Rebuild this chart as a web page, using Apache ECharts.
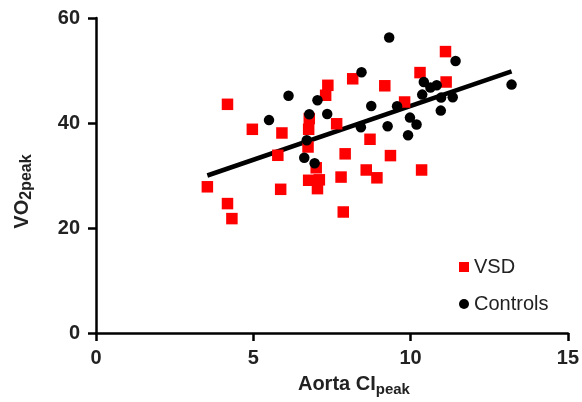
<!DOCTYPE html>
<html>
<head>
<meta charset="utf-8">
<script src="https://cdn.jsdelivr.net/npm/echarts@6/dist/echarts.min.js"></script>
<style>
html,body{margin:0;padding:0;background:#fff;}
#chart{width:582px;height:402px;}
</style>
</head>
<body>
<div id="chart"></div>
<script>
// VSD group: [Aorta CI peak, VO2 peak]
const vsdX = [3.54,4.18,4.18,4.32,4.97,5.91,5.78,5.87,7.37,7.30,8.16,9.18,6.78,6.76,7.65,6.74,8.71,7.92,7.00,6.76,7.10,7.04,7.79,8.59,8.93,7.86,9.36,11.11,10.30,11.13,9.81,10.35];
const vsdY = [27.85,43.56,24.65,21.79,38.80,38.10,33.85,27.37,47.18,45.28,48.42,47.09,40.84,38.80,39.85,35.43,36.90,34.13,31.47,29.09,29.18,27.50,29.70,31.05,29.56,23.05,33.79,53.60,49.60,47.81,44.00,31.05];
// Controls group
const ctrlX = [5.50,6.12,7.04,6.78,7.35,8.75,8.42,9.27,6.70,6.62,6.95,9.32,8.44,11.43,10.42,10.63,10.83,10.37,9.57,10.97,11.34,10.96,9.98,10.19,9.92,13.21];
const ctrlY = [40.55,45.18,44.32,41.66,41.70,43.24,39.18,39.37,36.70,33.37,32.32,56.29,49.66,51.81,47.81,46.74,47.18,45.41,43.18,44.84,44.90,42.36,41.03,39.70,37.66,47.31];
// Regression line endpoints
const fitX = [3.54, 13.21];
const fitY = [30.0, 49.85];
// Axis ticks
const xTicks = [0, 5, 10, 15];
const yTicks = [0, 20, 40, 60];

const zip = (a, b) => a.map((v, i) => [v, b[i]]);
const FONT = '"Liberation Sans", Arial, Helvetica, sans-serif';
const TXT = '#222';

const chart = echarts.init(document.getElementById('chart'), null, {renderer: 'canvas'});
chart.setOption({
  animation: false,
  backgroundColor: '#fff',
  textStyle: {fontFamily: FONT},
  grid: {left: 96, right: 11, top: 18, bottom: 69, containLabel: false},
  legend: {
    data: [
      {name: 'VSD', icon: 'rect'},
      {name: 'Controls', icon: 'circle'}
    ],
    orient: 'vertical',
    left: 454, top: 252,
    itemWidth: 10, itemHeight: 10, itemGap: 17,
    textStyle: {fontFamily: FONT, fontSize: 20, color: TXT}
  },
  xAxis: {
    type: 'value',
    min: xTicks[0], max: xTicks[xTicks.length - 1], interval: 5,
    name: '{a|Aorta CI}{b|peak}',
    nameLocation: 'middle', nameGap: 39,
    nameTextStyle: {
      padding: [0, 0, 0, 44],
      rich: {
        a: {fontFamily: FONT, fontSize: 20, fontWeight: 'bold', color: TXT},
        b: {fontFamily: FONT, fontSize: 15, fontWeight: 'bold', color: TXT, padding: [10, 0, 0, 0]}
      }
    },
    axisLine: {onZero: false, lineStyle: {color: '#000', width: 2.5}},
    axisTick: {show: true, inside: false, length: 8, lineStyle: {color: '#000', width: 2.5}},
    axisLabel: {fontFamily: FONT, fontSize: 20, fontWeight: 'bold', color: TXT, margin: 15},
    splitLine: {show: false}
  },
  yAxis: {
    type: 'value',
    min: yTicks[0], max: yTicks[yTicks.length - 1], interval: 20,
    name: '{a|VO}{b|2peak}',
    nameLocation: 'middle', nameGap: 61, nameRotate: 90,
    nameTextStyle: {
      padding: [0, 32, 0, 0],
      rich: {
        a: {fontFamily: FONT, fontSize: 20, fontWeight: 'bold', color: TXT},
        b: {fontFamily: FONT, fontSize: 16, fontWeight: 'bold', color: TXT, padding: [10, 0, 0, 0]}
      }
    },
    axisLine: {onZero: false, lineStyle: {color: '#000', width: 2.5}},
    axisTick: {show: true, inside: false, length: 8, lineStyle: {color: '#000', width: 2.5}},
    axisLabel: {fontFamily: FONT, fontSize: 20, fontWeight: 'bold', color: TXT, margin: 16},
    splitLine: {show: false}
  },
  series: [
    {
      name: 'fit', type: 'line', data: zip(fitX, fitY),
      symbol: 'none', lineStyle: {color: '#000', width: 4.5}, z: 1, silent: true
    },
    {
      name: 'VSD', type: 'scatter', data: zip(vsdX, vsdY),
      symbol: 'rect', symbolSize: 11.5, itemStyle: {color: '#ff0000', opacity: 1}, z: 3
    },
    {
      name: 'Controls', type: 'scatter', data: zip(ctrlX, ctrlY),
      symbol: 'circle', symbolSize: 10.5, itemStyle: {color: '#000', opacity: 1}, z: 4
    }
  ]
});
</script>
</body>
</html>
